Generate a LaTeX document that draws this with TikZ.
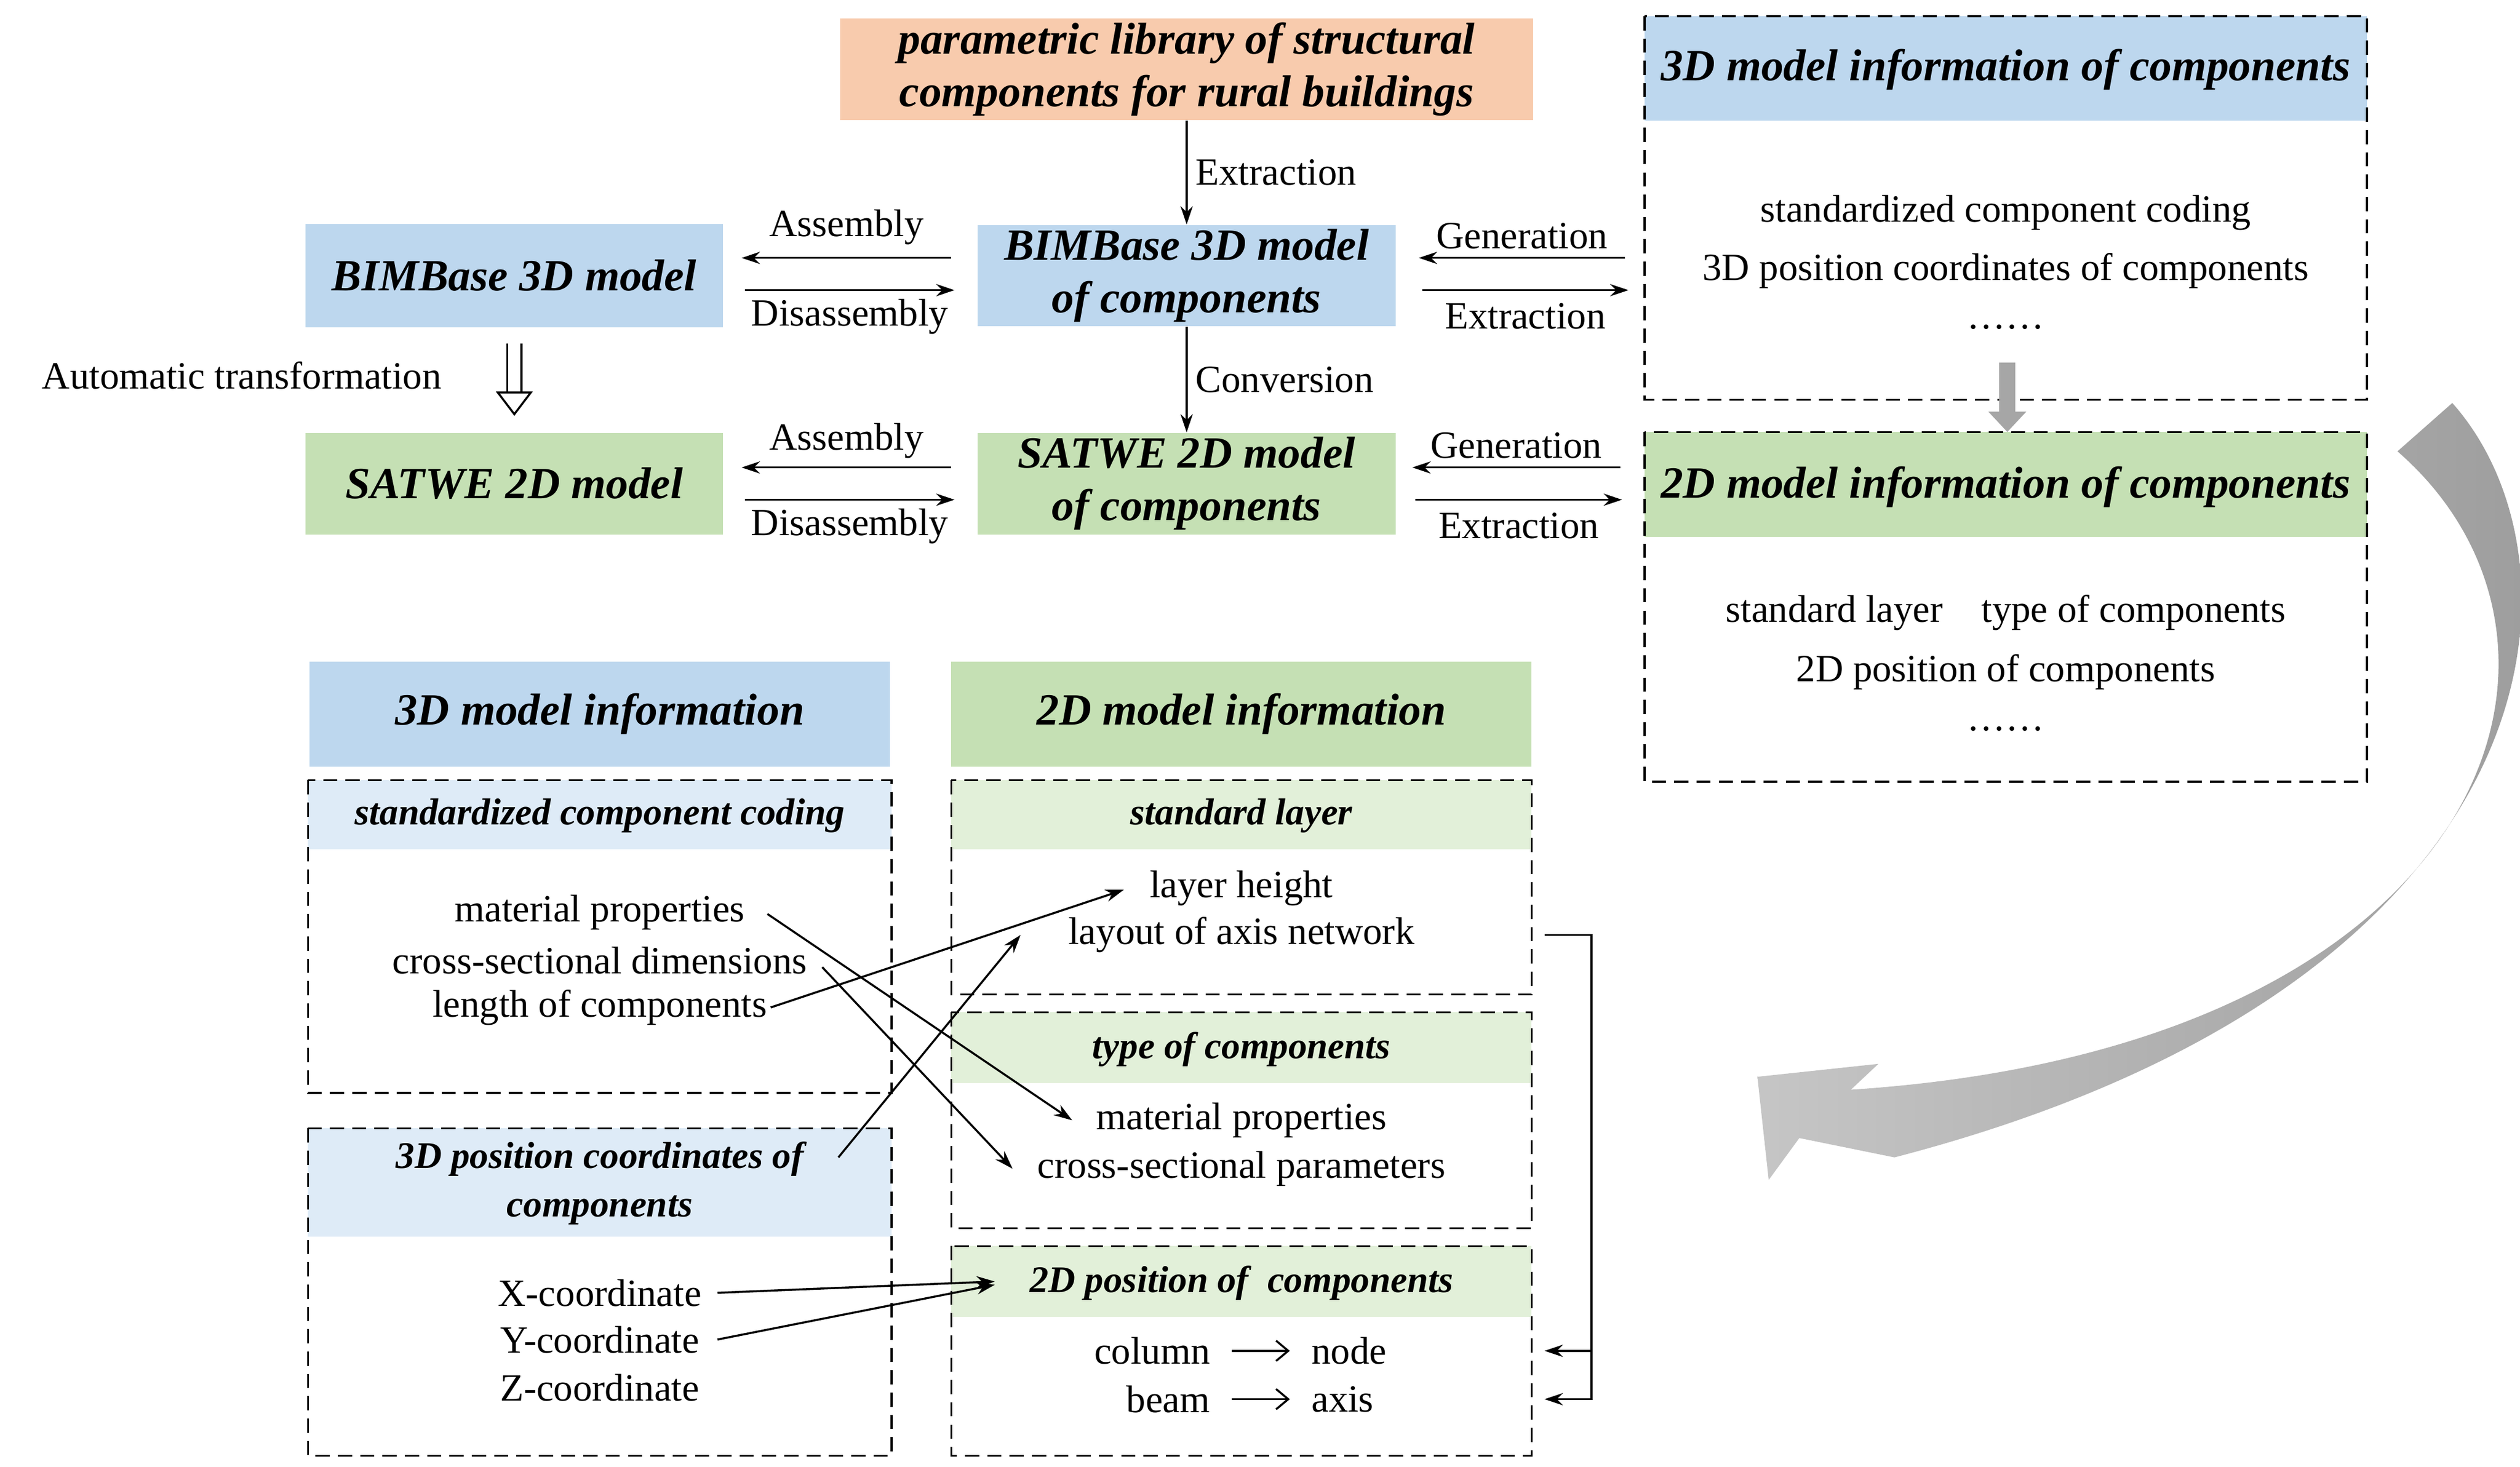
\documentclass[tikz,border=0pt]{standalone}
\usepackage{fontspec}
\setmainfont{Liberation Serif}
\usetikzlibrary{arrows.meta,positioning}
\definecolor{bl}{HTML}{BDD7EE}
\definecolor{gr}{HTML}{C5E0B4}
\definecolor{lbl}{HTML}{DEEBF7}
\definecolor{lgr}{HTML}{E2F0D9}
\definecolor{org}{HTML}{F8CBAD}
\begin{document}
\begin{tikzpicture}[x=0.02792cm,y=-0.02792cm,
  sz/.style 2 args={minimum width=#1*0.02792cm, minimum height=#2*0.02792cm, inner sep=0pt},
  hd/.style={font=\fontsize{22}{26}\selectfont\bfseries\itshape, align=center},
  sh/.style={font=\fontsize{18.5}{24}\selectfont\bfseries\itshape, align=center},
  tx/.style={font=\fontsize{19}{23}\selectfont, inner sep=1pt},
  dbox/.style={draw, dash pattern=on 7pt off 4pt, line width=1pt},
  ar/.style={-{Stealth[length=9pt,width=6pt]}, line width=1pt}]
\useasboundingbox (0,0) rectangle (1563,910);
% top
\node[hd, fill=org, sz={430}{63}] (lib) at (736,43) {parametric library of structural\\components for rural buildings};
\node[hd, fill=bl, sz={259}{64}] (b3d) at (319,171) {BIMBase 3D model};
\node[hd, fill=bl, sz={259}{63}] (b3c) at (736,171) {BIMBase 3D model\\of components};
\node[hd, fill=gr, sz={259}{63}] (s2d) at (319,300) {SATWE 2D model};
\node[hd, fill=gr, sz={259}{63}] (s2c) at (736,300) {SATWE 2D model\\of components};
\draw[ar] (lib) -- node[tx,right=3pt]{Extraction} (b3c);
\draw[ar] (b3c) -- node[tx,right=3pt]{Conversion} (s2c);
% assembly arrows
\coordinate (a1) at (590,160); \coordinate (a2) at (460,160);
\draw[ar] (a1) -- node[tx,above=5pt]{Assembly} (a2);
\coordinate (a3) at (462,180); \coordinate (a4) at (592,180);
\draw[ar] (a3) -- node[tx,below=3pt]{Disassembly} (a4);
\coordinate (a5) at (590,290); \coordinate (a6) at (460,290);
\draw[ar] (a5) -- node[tx,above=3pt]{Assembly} (a6);
\coordinate (a7) at (462,310); \coordinate (a8) at (592,310);
\draw[ar] (a7) -- node[tx,below=3pt]{Disassembly} (a8);
\coordinate (g1) at (1008,160); \coordinate (g2) at (880,160);
\draw[ar] (g1) -- node[tx,above=3pt]{Generation} (g2);
\coordinate (g3) at (882,180); \coordinate (g4) at (1010,180);
\draw[ar] (g3) -- node[tx,below=5pt]{Extraction} (g4);
\coordinate (g5) at (1005,290); \coordinate (g6) at (876,290);
\draw[ar] (g5) -- node[tx,above=3pt]{Generation} (g6);
\coordinate (g7) at (878,310); \coordinate (g8) at (1006,310);
\draw[ar] (g7) -- node[tx,below=5pt]{Extraction} (g8);
% automatic transformation
\node[tx] (auto) at (150,233) {Automatic transformation};
\coordinate (h1) at (319,213); \coordinate (h2) at (319,258);
\draw[line width=1pt, -{Triangle[open,length=12pt,width=18pt]}, double distance=6pt] (h1) -- (h2);
% right boxes
\fill[bl] (1020,10) rectangle (1468,75);
\node[hd] (r1h) at (1244,43) {3D model information of components};
\draw[dbox] (1020,10) rectangle (1468,248);
\node[tx] (r1a) at (1244,132) {standardized component coding};
\node[tx] (r1b) at (1244,168) {3D position coordinates of components};
\node[tx] (r1c) at (1244,203) {……};
\fill[gr] (1020,268) rectangle (1468,333);
\node[hd] (r2h) at (1244,302) {2D model information of components};
\draw[dbox] (1020,268) rectangle (1468,485);
\node[tx] (r2a) at (1244,380) {standard layer\quad type of components};
\node[tx] (r2b) at (1244,417) {2D position of components};
\node[tx] (r2c) at (1244,452) {……};
\coordinate (v1) at (1245,225); \coordinate (v2) at (1245,268);
\draw[line width=8pt, gray!70, -{Triangle[length=10pt,width=18pt]}] (v1) -- (v2);
% big curved arrow
\shade[left color=gray!45, right color=gray!80]
 (1487,280) -- (1521,250) .. controls (1610,350) and (1590,610) .. (1175,718)
 -- (1116,706) -- (1097,732) -- (1090,668) -- (1165,660) -- (1148,676)
 .. controls (1545,650) and (1625,400) .. (1487,280) -- cycle;
% bottom left
\node[hd, fill=bl, sz={360}{65}] (i3) at (372,443) {3D model information};
\node[hd, fill=gr, sz={360}{65}] (i2) at (770,443) {2D model information};
\fill[lbl] (191,484) rectangle (553,527);
\node[sh] (c1) at (372,506) {standardized component coding};
\draw[dbox] (191,484) rectangle (553,678);
\node[tx] (mp) at (372,566) {material properties};
\node[tx] (cs) at (372,596) {cross-sectional dimensions};
\node[tx] (lc) at (372,625) {length of components};
\fill[lbl] (191,700) rectangle (553,767);
\node[sh] (c2) at (372,734) {3D position coordinates of\\components};
\draw[dbox] (191,700) rectangle (553,903);
\node[tx] (xc) at (372,802) {X-coordinate};
\node[tx] (yc) at (372,831) {Y-coordinate};
\node[tx] (zc) at (372,861) {Z-coordinate};
% 2D boxes
\fill[lgr] (590,484) rectangle (950,527);
\node[sh] (d1) at (770,506) {standard layer};
\draw[dbox] (590,484) rectangle (950,617);
\node[tx] (lh) at (770,551) {layer height};
\node[tx] (la) at (770,580) {layout of axis network};
\fill[lgr] (590,628) rectangle (950,672);
\node[sh] (d2) at (770,651) {type of components};
\draw[dbox] (590,628) rectangle (950,762);
\node[tx] (mp2) at (770,695) {material properties};
\node[tx] (cp) at (770,725) {cross-sectional parameters};
\fill[lgr] (590,773) rectangle (950,817);
\node[sh] (d3) at (770,796) {2D position of\ \ components};
\draw[dbox] (590,773) rectangle (950,903);
\node[tx,anchor=east] (col) at (752,838) {column};
\node[tx,anchor=west] (nd) at (812,838) {node};
\node[tx,anchor=east] (bm) at (752,868) {beam};
\node[tx,anchor=west] (ax) at (812,868) {axis};
\draw[line width=1pt,-{Straight Barb[length=6pt,width=10pt]}] (col.east)++(12,0) coordinate(q1) -- ++(36,0);
\draw[line width=1pt,-{Straight Barb[length=6pt,width=10pt]}] (bm.east)++(12,0) coordinate(q2) -- ++(36,0);
% crossing arrows
\coordinate (e1) at (476,567); \coordinate (f1) at (665,695);
\draw[ar] (e1) -- (f1);
\coordinate (e2) at (510,600); \coordinate (f2) at (628,725);
\draw[ar] (e2) -- (f2);
\coordinate (e3) at (478,625); \coordinate (f3) at (697,552);
\draw[ar] (e3) -- (f3);
\coordinate (e4) at (520,718); \coordinate (f4) at (633,580);
\draw[ar] (e4) -- (f4);
\coordinate (e5) at (445,802); \coordinate (f5) at (617,795);
\draw[ar] (e5) -- (f5);
\coordinate (e6) at (445,831); \coordinate (f6) at (617,797);
\draw[ar] (e6) -- (f6);
% bracket
\coordinate (k1) at (958,580); \coordinate (k2) at (987,580);
\coordinate (k3) at (987,868); \coordinate (k4) at (958,868);
\coordinate (k5) at (987,838); \coordinate (k6) at (958,838);
\draw[ar] (k1) -- (k2) -- (k3) -- (k4);
\draw[ar] (k5) -- (k6);
\end{tikzpicture}
\end{document}
